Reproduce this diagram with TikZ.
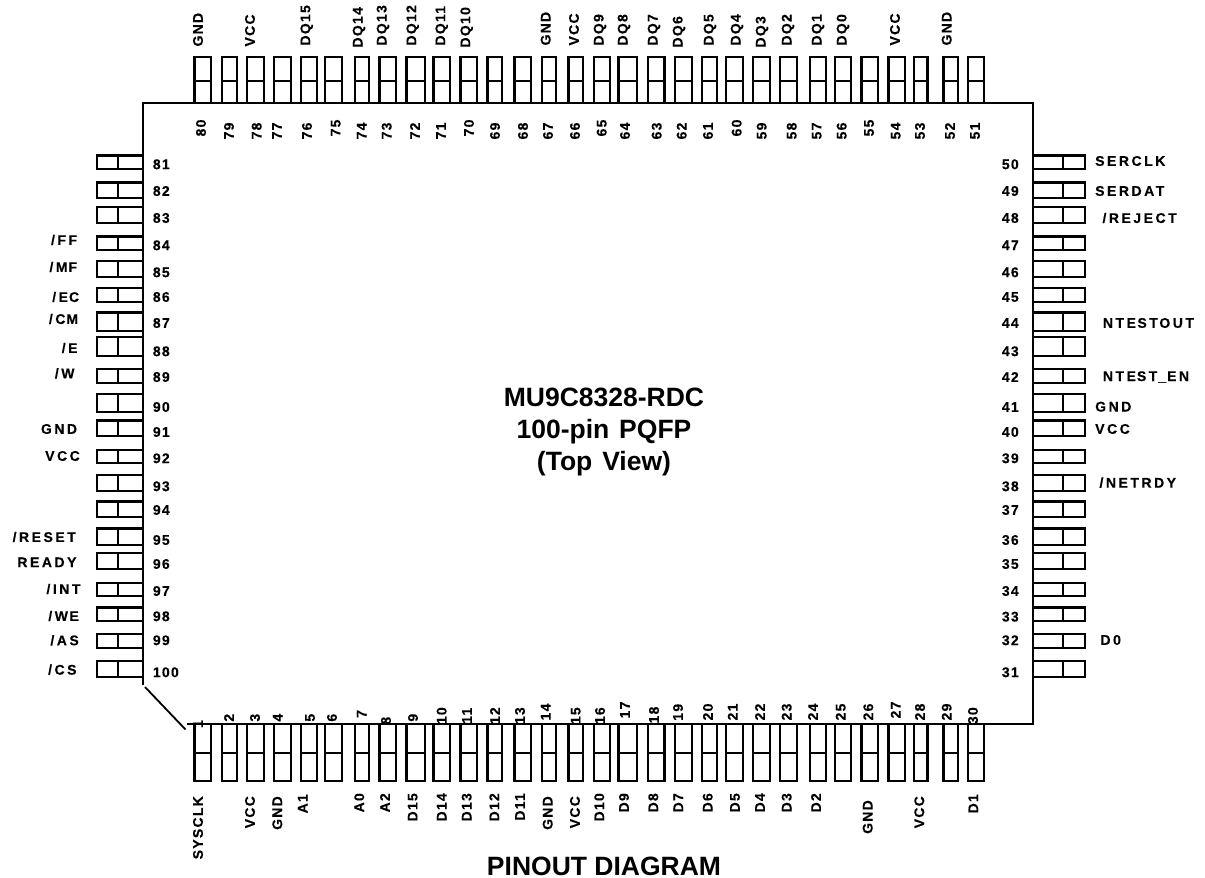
\documentclass[tikz,border=0pt]{standalone}
\usepackage{fontspec}
\setmainfont{Liberation Sans}
\newfontfamily\pinfont[LetterSpace=9,BoldFeatures={FakeBold=0.3}]{Liberation Sans}
\newfontfamily\sidefont[LetterSpace=18,BoldFeatures={FakeBold=0.3}]{Liberation Sans}
\begin{document}
\begin{tikzpicture}[x=1pt,y=-1pt,
  pinbox/.style={draw=black,line width=2.2pt,fill=none,line join=miter},
  bodyline/.style={draw=black,line width=2.6pt,line join=miter},
  pinlabel/.style={inner sep=0pt,font=\pinfont\bfseries\fontsize{14}{16}\selectfont,text=black},
  sidelabel/.style={inner sep=0pt,font=\sidefont\bfseries\fontsize{14}{16}\selectfont,text=black},
  numup/.style={pinlabel,rotate=90,anchor=center},
  upend/.style={pinlabel,rotate=90,anchor=west},
  downend/.style={pinlabel,rotate=90,anchor=east},
  numleft/.style={pinlabel,anchor=west},
  nameleft/.style={sidelabel,anchor=west},
  nameright/.style={sidelabel,anchor=east},
  title/.style={inner sep=0pt,align=center,font=\bfseries\fontsize{26.5}{32}\selectfont,text=black},
  captiontext/.style={inner sep=0pt,font=\bfseries\fontsize{26.5}{32}\selectfont,text=black}]
\useasboundingbox (0,0) rectangle (1205,878);
% horizontal-side pins (top and bottom share columns)
\foreach \a/\b in {193.3/212.3,220.7/237.7,245.7/264.7,272.7/291.7,299.7/318.3,324/342.7,354/370,378.3/396.7,405.3/425.7,432.3/451,459.3/478.3,486.3/503.3,513.3/532,541/556.7,567.3/583.8,592.5/611,617.3/638.3,646.5/665.5,673.7/692.7,700.5/718,725.2/744,752.2/771,779/798,809/827.3,833.5/852.2,860.3/879,887.3/906,912.5/928.5,942.3/959,966.7/985.2}{
  \draw[pinbox] (\a+1.1,103) -- (\a+1.1,57.1) -- (\b-1.1,57.1) -- (\b-1.1,103) (\a+1.1,81) -- (\b-1.1,81);
  \draw[pinbox] (\a+1.1,724) -- (\a+1.1,780.9) -- (\b-1.1,780.9) -- (\b-1.1,724) (\a+1.1,753) -- (\b-1.1,753);
}
% vertical-side pins
\foreach \a/\b in {154.3/170,181.3/199.3,206/224,235.3/250.7,260/277.7,286.7/302.7,311.3/331.7,335.7/356.7,368/383.7,392.7/413.3,419.3/437.3,448.7/464.3,473.7/491.7,500.3/518.3,527.3/545.7,552/570,581.7/597.3,606.3/622,633/648.7,659.7/678.3}{
  \draw[pinbox] (143,\a+1.1) -- (97.1,\a+1.1) -- (97.1,\b-1.1) -- (143,\b-1.1) (118,\a+1.1) -- (118,\b-1.1);
  \draw[pinbox] (1033,\a+1.1) -- (1084.9,\a+1.1) -- (1084.9,\b-1.1) -- (1033,\b-1.1) (1063,\a+1.1) -- (1063,\b-1.1);
}
% package body
\draw[bodyline] (143,685) -- (143,103) -- (1033,103) -- (1033,724) -- (187,724);
\draw[line width=1.8pt] (145,687) -- (185.5,729.5);
% top numbers
\foreach \t/\x/\y in {80/201/128,79/229/131,78/256.7/131,77/277/131,76/307/131,75/335.7/128,74/361.7/131,73/386.7/131,72/415/131,71/441/131,70/469/128,69/495/131,68/523/131,67/548/131,66/575/131,65/601.7/128,64/625/131,63/656.7/131,62/681.7/131,61/708/131,60/736.7/128,59/761.7/131,58/791.7/131,57/816.7/131,56/841.7/131,55/869/128,54/895.7/131,53/920/131,52/950/131,51/975/131}
  \node[numup] (n\t) at (\x,\y) {\t};
% bottom numbers
\foreach \t/\x/\y in {1/198/724,2/229/717.7,3/255/717.7,4/277.7/717.7,5/310/717.7,6/332/717.7,7/361.7/714,8/386/720.7,9/413/717.7,10/441.7/715.7,11/467/715.7,12/495/715.7,13/520/715.7,14/545.7/712,15/575.7/715.7,16/600/715.7,17/625/710,18/654/715,19/678/712.3,20/708/712,21/732.7/712,22/760/712,23/786.7/712,24/813/712,25/840.7/712,26/868.3/712,27/895.7/710,28/920/712,29/946.7/712,30/973/715.7}
  \node[numup] (n\t) at (\x,\y) {\t};
% left numbers
\foreach \t/\y in {81/164.3,82/191,83/218,84/245.3,85/272.3,86/297,87/323,88/351.3,89/377,90/407,91/432,92/458.3,93/486.3,94/510,95/540,96/564,97/591,98/616.3,99/640.3,100/672.3}
  \node[numleft] (n\t) at (152.7,\y) {\t};
% right numbers
\foreach \t/\y in {50/164.3,49/191,48/218,47/245.3,46/272.3,45/297,44/323,43/351.3,42/377,41/407,40/432,39/458.3,38/486.3,37/510,36/540,35/564,34/591,33/616.7,32/640.3,31/672.3}
  \node[numleft] (n\t) at (1001.7,\y) {\t};
% top signal names
\foreach \i/\t/\x/\y in {a/GND/198/46.7,b/VCC/250/46.7,c/DQ15/306.7/45.7,d/DQ14/359/47.7,e/DQ13/383/45.7,f/DQ12/412.7/45.7,g/DQ11/441.7/45.7,h/DQ10/466.7/47.7,i/GND/545.7/45.7,j/VCC/574/45.7,k/DQ9/600/45.7,l/DQ8/624/45.7,m/DQ7/654/45.7,n/DQ6/679/47.7,o/DQ5/710/45.7,p/DQ4/737/45.7,q/DQ3/762/47.7,r/DQ2/788/45.7,s/DQ1/818/45.7,t/DQ0/843/45.7,u/VCC/895/45.7,v/GND/946.7/45.7}
  \node[upend] (top\i) at (\x,\y) {\t};
% bottom signal names
\foreach \i/\t/\x/\y in {a/SYSCLK/198/796,b/VCC/250/796,c/GND/277.3/796,d/A1/302.7/794,e/A0/359.3/793,f/A2/385/793,g/D15/412.7/793,h/D14/441.7/793,i/D13/466.7/793,j/D12/494.3/793,k/D11/520/793,l/GND/547.7/796,m/VCC/575/796,n/D10/599.3/793,o/D9/624/793,p/D8/653.3/793,q/D7/678.3/793,r/D6/707.7/793,s/D5/735/793,t/D4/760/793,u/D3/786.7/793,v/D2/816/793,w/GND/867.7/800,x/VCC/919.3/796,y/D1/973.3/794}
  \node[downend] (bot\i) at (\x,\y) {\t};
% left signal names (right edge given)
\foreach \i/\t/\x/\y in {a/{/FF}/77.3/240,b/{/M\kern1pt F}/77.3/267,c/{/E\kern1pt C}/79.3/297,d/{/C\kern1pt M}/78.3/319,e/{/E}/77.7/348,f/{/W}/74.7/373.3,g/GND/77.3/429,h/VCC/80/456,i/{/RESET}/76/537,j/READY/76.7/562.3,k/{/INT}/80.7/589,l/{/W\kern1.5pt E}/79/616,m/{/AS}/79/640.3,n/{/CS}/76.7/669.7}
  \node[nameright] (lft\i) at (\x,\y) {\t};
% right signal names (left edge given)
\foreach \i/\t/\x/\y in {a/SERCLK/1095/161,b/SERDAT/1095/191,c/{/REJECT}/1102.3/218,d/{NTE\kern1.5pt ST\kern1.5pt OUT}/1102.7/323,e/{NTE\kern1pt ST\kern1pt \_\kern1pt EN}/1102.7/377,f/GND/1095/406.7,g/VCC/1095/429,h/{/NETRDY}/1099.3/482.7,i/D0/1100.3/640}
  \node[nameleft] (rgt\i) at (\x,\y) {\t};
% titles
\node[title] (chip) at (604,432) {MU9C8328-RDC\\100-pin\kern2.5pt\ PQFP\\(Top\kern2.5pt\ View)};
\node[captiontext] (caption) at (604,866) {PINOUT DIAGRAM};
\end{tikzpicture}
\end{document}
